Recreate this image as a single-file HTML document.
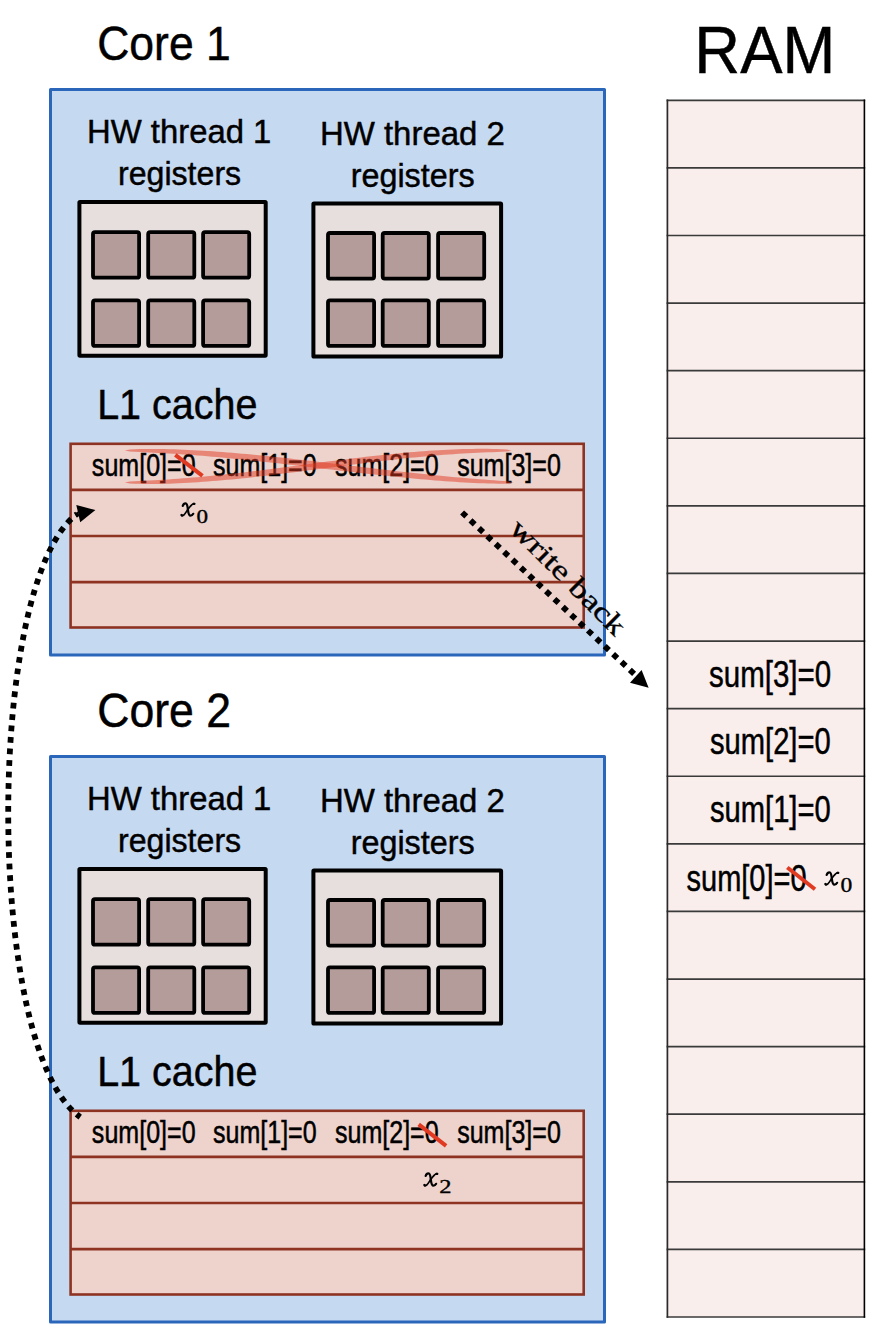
<!DOCTYPE html><html><head><meta charset="utf-8"><style>html,body{margin:0;padding:0;background:#fff;width:892px;height:1334px;overflow:hidden;position:relative}</style></head><body><svg width="892" height="1334" viewBox="0 0 892 1334" style="position:absolute;left:0;top:0">
<rect width="892" height="1334" fill="#fff"/>
<rect x="50.5" y="89.5" width="554" height="565.6" fill="#C5D9F1" stroke="#2A67BB" stroke-width="3" stroke-linejoin="round"/>
<text transform="matrix(0.44527 0 0 0.48623 97.20 59.67)" font-family='"Liberation Sans", sans-serif' font-size="100" fill="#000" stroke="#000" stroke-width="0.966">Core 1</text>
<text transform="matrix(0.32862 0 0 0.33551 87.00 142.97)" font-family='"Liberation Sans", sans-serif' font-size="100" fill="#000" stroke="#000" stroke-width="1.355">HW thread 1</text>
<text transform="matrix(0.32115 0 0 0.33582 118.04 184.78)" font-family='"Liberation Sans", sans-serif' font-size="100" fill="#000" stroke="#000" stroke-width="1.370">registers</text>
<text transform="matrix(0.32947 0 0 0.33551 319.89 144.88)" font-family='"Liberation Sans", sans-serif' font-size="100" fill="#000" stroke="#000" stroke-width="1.353">HW thread 2</text>
<text transform="matrix(0.32303 0 0 0.33582 350.73 186.68)" font-family='"Liberation Sans", sans-serif' font-size="100" fill="#000" stroke="#000" stroke-width="1.366">registers</text>
<rect x="79.4" y="202.0" width="186.3" height="153.7" rx="0.6" fill="#E7DEDE" stroke="#000" stroke-width="4"/>
<rect x="93.0" y="232.1" width="46.1" height="45.6" rx="2" fill="#B49C9A" stroke="#000" stroke-width="3.8"/>
<rect x="148.2" y="232.1" width="46.1" height="45.6" rx="2" fill="#B49C9A" stroke="#000" stroke-width="3.8"/>
<rect x="203.1" y="232.1" width="46.1" height="45.6" rx="2" fill="#B49C9A" stroke="#000" stroke-width="3.8"/>
<rect x="93.0" y="300.3" width="46.1" height="45.6" rx="2" fill="#B49C9A" stroke="#000" stroke-width="3.8"/>
<rect x="148.2" y="300.3" width="46.1" height="45.6" rx="2" fill="#B49C9A" stroke="#000" stroke-width="3.8"/>
<rect x="203.1" y="300.3" width="46.1" height="45.6" rx="2" fill="#B49C9A" stroke="#000" stroke-width="3.8"/>
<rect x="313.4" y="203.4" width="187.7" height="153.2" rx="0.6" fill="#E7DEDE" stroke="#000" stroke-width="4"/>
<rect x="328.0" y="233.0" width="46.1" height="45.6" rx="2" fill="#B49C9A" stroke="#000" stroke-width="3.8"/>
<rect x="382.7" y="233.0" width="46.1" height="45.6" rx="2" fill="#B49C9A" stroke="#000" stroke-width="3.8"/>
<rect x="438.1" y="233.0" width="46.1" height="45.6" rx="2" fill="#B49C9A" stroke="#000" stroke-width="3.8"/>
<rect x="328.0" y="300.3" width="46.1" height="45.6" rx="2" fill="#B49C9A" stroke="#000" stroke-width="3.8"/>
<rect x="382.7" y="300.3" width="46.1" height="45.6" rx="2" fill="#B49C9A" stroke="#000" stroke-width="3.8"/>
<rect x="438.1" y="300.3" width="46.1" height="45.6" rx="2" fill="#B49C9A" stroke="#000" stroke-width="3.8"/>
<text transform="matrix(0.39479 0 0 0.41667 97.17 419.07)" font-family='"Liberation Sans", sans-serif' font-size="100" fill="#000" stroke="#000" stroke-width="1.109">L1 cache</text>
<rect x="70.6" y="443.8" width="513.1" height="183.7" fill="#EED2CC" stroke="#8E3322" stroke-width="2.6"/>
<line x1="70.6" x2="583.7" y1="489.9" y2="489.9" stroke="#8E3322" stroke-width="2.6"/>
<line x1="70.6" x2="583.7" y1="536.0" y2="536.0" stroke="#8E3322" stroke-width="2.6"/>
<line x1="70.6" x2="583.7" y1="582.1" y2="582.1" stroke="#8E3322" stroke-width="2.6"/>
<text transform="matrix(0.25043 0 0 0.31479 91.87 476.27)" font-family='"Liberation Sans", sans-serif' font-size="100" fill="#000" stroke="#000" stroke-width="1.592">sum[0]=0</text>
<text transform="matrix(0.25043 0 0 0.31479 212.97 476.27)" font-family='"Liberation Sans", sans-serif' font-size="100" fill="#000" stroke="#000" stroke-width="1.592">sum[1]=0</text>
<text transform="matrix(0.25043 0 0 0.31479 334.97 476.27)" font-family='"Liberation Sans", sans-serif' font-size="100" fill="#000" stroke="#000" stroke-width="1.592">sum[2]=0</text>
<text transform="matrix(0.25043 0 0 0.31479 457.17 476.27)" font-family='"Liberation Sans", sans-serif' font-size="100" fill="#000" stroke="#000" stroke-width="1.592">sum[3]=0</text>
<rect x="50.5" y="756.5" width="554" height="565.6" fill="#C5D9F1" stroke="#2A67BB" stroke-width="3" stroke-linejoin="round"/>
<text transform="matrix(0.44603 0 0 0.48623 97.19 726.67)" font-family='"Liberation Sans", sans-serif' font-size="100" fill="#000" stroke="#000" stroke-width="0.965">Core 2</text>
<text transform="matrix(0.32862 0 0 0.33551 87.00 809.98)" font-family='"Liberation Sans", sans-serif' font-size="100" fill="#000" stroke="#000" stroke-width="1.355">HW thread 1</text>
<text transform="matrix(0.32115 0 0 0.33582 118.04 851.77)" font-family='"Liberation Sans", sans-serif' font-size="100" fill="#000" stroke="#000" stroke-width="1.370">registers</text>
<text transform="matrix(0.32947 0 0 0.33551 319.89 811.88)" font-family='"Liberation Sans", sans-serif' font-size="100" fill="#000" stroke="#000" stroke-width="1.353">HW thread 2</text>
<text transform="matrix(0.32303 0 0 0.33582 350.73 853.67)" font-family='"Liberation Sans", sans-serif' font-size="100" fill="#000" stroke="#000" stroke-width="1.366">registers</text>
<rect x="79.4" y="869.0" width="186.3" height="153.7" rx="0.6" fill="#E7DEDE" stroke="#000" stroke-width="4"/>
<rect x="93.0" y="899.1" width="46.1" height="45.6" rx="2" fill="#B49C9A" stroke="#000" stroke-width="3.8"/>
<rect x="148.2" y="899.1" width="46.1" height="45.6" rx="2" fill="#B49C9A" stroke="#000" stroke-width="3.8"/>
<rect x="203.1" y="899.1" width="46.1" height="45.6" rx="2" fill="#B49C9A" stroke="#000" stroke-width="3.8"/>
<rect x="93.0" y="967.3" width="46.1" height="45.6" rx="2" fill="#B49C9A" stroke="#000" stroke-width="3.8"/>
<rect x="148.2" y="967.3" width="46.1" height="45.6" rx="2" fill="#B49C9A" stroke="#000" stroke-width="3.8"/>
<rect x="203.1" y="967.3" width="46.1" height="45.6" rx="2" fill="#B49C9A" stroke="#000" stroke-width="3.8"/>
<rect x="313.4" y="870.4" width="187.7" height="153.2" rx="0.6" fill="#E7DEDE" stroke="#000" stroke-width="4"/>
<rect x="328.0" y="900.0" width="46.1" height="45.6" rx="2" fill="#B49C9A" stroke="#000" stroke-width="3.8"/>
<rect x="382.7" y="900.0" width="46.1" height="45.6" rx="2" fill="#B49C9A" stroke="#000" stroke-width="3.8"/>
<rect x="438.1" y="900.0" width="46.1" height="45.6" rx="2" fill="#B49C9A" stroke="#000" stroke-width="3.8"/>
<rect x="328.0" y="967.3" width="46.1" height="45.6" rx="2" fill="#B49C9A" stroke="#000" stroke-width="3.8"/>
<rect x="382.7" y="967.3" width="46.1" height="45.6" rx="2" fill="#B49C9A" stroke="#000" stroke-width="3.8"/>
<rect x="438.1" y="967.3" width="46.1" height="45.6" rx="2" fill="#B49C9A" stroke="#000" stroke-width="3.8"/>
<text transform="matrix(0.39479 0 0 0.41667 97.17 1086.08)" font-family='"Liberation Sans", sans-serif' font-size="100" fill="#000" stroke="#000" stroke-width="1.109">L1 cache</text>
<rect x="70.6" y="1110.8" width="513.1" height="183.7" fill="#EED2CC" stroke="#8E3322" stroke-width="2.6"/>
<line x1="70.6" x2="583.7" y1="1156.9" y2="1156.9" stroke="#8E3322" stroke-width="2.6"/>
<line x1="70.6" x2="583.7" y1="1203.0" y2="1203.0" stroke="#8E3322" stroke-width="2.6"/>
<line x1="70.6" x2="583.7" y1="1249.1" y2="1249.1" stroke="#8E3322" stroke-width="2.6"/>
<text transform="matrix(0.25043 0 0 0.31479 91.87 1143.28)" font-family='"Liberation Sans", sans-serif' font-size="100" fill="#000" stroke="#000" stroke-width="1.592">sum[0]=0</text>
<text transform="matrix(0.25043 0 0 0.31479 212.97 1143.28)" font-family='"Liberation Sans", sans-serif' font-size="100" fill="#000" stroke="#000" stroke-width="1.592">sum[1]=0</text>
<text transform="matrix(0.25043 0 0 0.31479 334.97 1143.28)" font-family='"Liberation Sans", sans-serif' font-size="100" fill="#000" stroke="#000" stroke-width="1.592">sum[2]=0</text>
<text transform="matrix(0.25043 0 0 0.31479 457.17 1143.28)" font-family='"Liberation Sans", sans-serif' font-size="100" fill="#000" stroke="#000" stroke-width="1.592">sum[3]=0</text>
<path d="M124.80,450.40 L129.69,451.40 L134.56,451.70 L139.44,451.95 L144.31,452.19 L149.18,452.42 L154.05,452.66 L158.91,452.92 L163.77,453.18 L168.63,453.46 L173.49,453.76 L178.35,454.07 L183.20,454.39 L188.06,454.74 L192.91,455.09 L197.76,455.46 L202.61,455.85 L207.45,456.25 L212.30,456.66 L217.15,457.08 L221.99,457.52 L226.83,457.97 L231.68,458.43 L236.52,458.91 L241.36,459.39 L246.20,459.89 L251.04,460.39 L255.88,460.90 L260.72,461.42 L265.56,461.95 L270.40,462.48 L275.24,463.03 L280.08,463.57 L284.92,464.13 L289.76,464.68 L294.60,465.24 L299.44,465.81 L304.28,466.38 L309.12,466.95 L313.96,467.52 L318.80,468.09 L323.64,468.66 L328.48,469.24 L333.32,469.81 L338.17,470.38 L343.01,470.94 L347.85,471.51 L352.70,472.07 L357.55,472.63 L362.39,473.18 L367.24,473.73 L372.09,474.27 L376.94,474.80 L381.79,475.33 L386.64,475.84 L391.49,476.35 L396.35,476.85 L401.20,477.34 L406.06,477.82 L410.92,478.29 L415.78,478.74 L420.64,479.18 L425.50,479.61 L430.36,480.02 L435.23,480.42 L440.09,480.80 L444.96,481.16 L449.83,481.50 L454.70,481.83 L459.57,482.13 L464.45,482.42 L469.32,482.68 L474.20,482.92 L479.08,483.13 L483.96,483.31 L488.84,483.46 L493.72,483.57 L498.61,483.63 L503.50,483.64 L508.39,483.54 L513.30,482.70 L513.30,482.70 L508.46,481.55 L503.60,481.10 L498.74,480.71 L493.88,480.33 L489.02,479.96 L484.16,479.59 L479.31,479.20 L474.46,478.81 L469.61,478.41 L464.76,478.00 L459.91,477.58 L455.06,477.14 L450.22,476.69 L445.37,476.24 L440.53,475.77 L435.69,475.29 L430.84,474.80 L426.00,474.30 L421.16,473.79 L416.32,473.28 L411.48,472.75 L406.64,472.22 L401.80,471.68 L396.96,471.13 L392.13,470.58 L387.29,470.02 L382.45,469.45 L377.61,468.88 L372.77,468.31 L367.93,467.74 L363.09,467.16 L358.25,466.58 L353.42,466.00 L348.58,465.41 L343.74,464.83 L338.89,464.25 L334.05,463.67 L329.21,463.09 L324.37,462.51 L319.53,461.93 L314.68,461.36 L309.84,460.80 L304.99,460.23 L300.15,459.68 L295.30,459.13 L290.45,458.58 L285.60,458.05 L280.75,457.52 L275.90,457.00 L271.05,456.49 L266.19,455.99 L261.34,455.50 L256.48,455.02 L251.63,454.55 L246.77,454.10 L241.91,453.66 L237.04,453.24 L232.18,452.82 L227.32,452.43 L222.45,452.05 L217.58,451.69 L212.71,451.34 L207.84,451.02 L202.97,450.71 L198.10,450.43 L193.22,450.16 L188.34,449.92 L183.46,449.70 L178.58,449.50 L173.70,449.33 L168.82,449.19 L163.93,449.08 L159.04,448.99 L154.16,448.94 L149.26,448.92 L144.37,448.95 L139.48,449.02 L134.59,449.16 L129.69,449.40 L124.80,450.40Z" fill="#E03A22" fill-opacity="0.5"/>
<path d="M124.80,482.40 L129.69,483.43 L134.58,483.69 L139.47,483.85 L144.36,483.93 L149.24,483.96 L154.12,483.94 L159.00,483.88 L163.88,483.78 L168.75,483.65 L173.62,483.48 L178.49,483.28 L183.36,483.05 L188.22,482.79 L193.07,482.51 L197.93,482.20 L202.78,481.86 L207.63,481.50 L212.48,481.12 L217.32,480.72 L222.16,480.29 L227.00,479.85 L231.84,479.39 L236.67,478.91 L241.51,478.41 L246.34,477.90 L251.16,477.38 L255.99,476.84 L260.81,476.29 L265.63,475.73 L270.45,475.15 L275.27,474.57 L280.09,473.98 L284.90,473.37 L289.71,472.77 L294.52,472.15 L299.34,471.53 L304.14,470.91 L308.95,470.28 L313.76,469.65 L318.57,469.02 L323.37,468.39 L328.18,467.76 L332.98,467.13 L337.79,466.50 L342.59,465.87 L347.39,465.25 L352.20,464.63 L357.00,464.02 L361.80,463.41 L366.61,462.81 L371.41,462.22 L376.22,461.63 L381.02,461.06 L385.83,460.50 L390.64,459.94 L395.45,459.40 L400.26,458.87 L405.07,458.36 L409.88,457.86 L414.69,457.38 L419.51,456.91 L424.33,456.45 L429.15,456.02 L433.97,455.60 L438.79,455.21 L443.62,454.83 L448.45,454.47 L453.28,454.13 L458.12,453.82 L462.96,453.52 L467.80,453.25 L472.64,452.99 L477.49,452.76 L482.35,452.55 L487.21,452.36 L492.07,452.18 L496.94,452.01 L501.81,451.83 L506.69,451.61 L511.60,450.70 L511.60,450.70 L506.72,449.61 L501.83,449.29 L496.94,449.08 L492.05,448.94 L487.16,448.86 L482.27,448.83 L477.39,448.84 L472.51,448.89 L467.64,448.97 L462.76,449.09 L457.89,449.25 L453.03,449.44 L448.16,449.65 L443.30,449.90 L438.44,450.17 L433.59,450.47 L428.74,450.79 L423.89,451.14 L419.04,451.51 L414.20,451.91 L409.35,452.32 L404.52,452.75 L399.68,453.21 L394.85,453.68 L390.01,454.16 L385.18,454.67 L380.36,455.19 L375.53,455.72 L370.71,456.26 L365.89,456.82 L361.07,457.39 L356.25,457.97 L351.43,458.56 L346.62,459.16 L341.81,459.76 L336.99,460.38 L332.18,461.00 L327.37,461.62 L322.57,462.25 L317.76,462.88 L312.95,463.51 L308.15,464.14 L303.34,464.78 L298.54,465.41 L293.73,466.05 L288.93,466.68 L284.12,467.31 L279.32,467.93 L274.52,468.55 L269.71,469.17 L264.91,469.77 L260.10,470.38 L255.30,470.97 L250.49,471.55 L245.68,472.13 L240.88,472.69 L236.07,473.24 L231.26,473.78 L226.45,474.31 L221.63,474.83 L216.82,475.33 L212.00,475.81 L207.18,476.28 L202.36,476.73 L197.54,477.16 L192.72,477.58 L187.89,477.98 L183.06,478.36 L178.23,478.72 L173.39,479.06 L168.55,479.38 L163.71,479.67 L158.86,479.96 L154.01,480.22 L149.16,480.46 L144.30,480.69 L139.44,480.92 L134.57,481.15 L129.69,481.43 L124.80,482.40Z" fill="#E03A22" fill-opacity="0.5"/>
<line x1="175.3" y1="454.8" x2="202.5" y2="475.8" stroke="#E03A22" stroke-width="4"/>
<line x1="418.7" y1="1124.4" x2="446.1" y2="1145.8" stroke="#E03A22" stroke-width="4"/>
<text transform="matrix(0.63422 0 0 0.67174 694.35 73.28)" font-family='"Liberation Sans", sans-serif' font-size="100" fill="#000" stroke="#000" stroke-width="0.689">RAM</text>
<rect x="667.4" y="100.3" width="197" height="1216.7" fill="#F9EEEC"/>
<line x1="666.6" x2="865.2" y1="100.30" y2="100.30" stroke="#3A3A3A" stroke-width="1.7"/>
<line x1="666.6" x2="865.2" y1="167.89" y2="167.89" stroke="#3A3A3A" stroke-width="1.7"/>
<line x1="666.6" x2="865.2" y1="235.49" y2="235.49" stroke="#3A3A3A" stroke-width="1.7"/>
<line x1="666.6" x2="865.2" y1="303.08" y2="303.08" stroke="#3A3A3A" stroke-width="1.7"/>
<line x1="666.6" x2="865.2" y1="370.68" y2="370.68" stroke="#3A3A3A" stroke-width="1.7"/>
<line x1="666.6" x2="865.2" y1="438.27" y2="438.27" stroke="#3A3A3A" stroke-width="1.7"/>
<line x1="666.6" x2="865.2" y1="505.87" y2="505.87" stroke="#3A3A3A" stroke-width="1.7"/>
<line x1="666.6" x2="865.2" y1="573.46" y2="573.46" stroke="#3A3A3A" stroke-width="1.7"/>
<line x1="666.6" x2="865.2" y1="641.06" y2="641.06" stroke="#3A3A3A" stroke-width="1.7"/>
<line x1="666.6" x2="865.2" y1="708.65" y2="708.65" stroke="#3A3A3A" stroke-width="1.7"/>
<line x1="666.6" x2="865.2" y1="776.24" y2="776.24" stroke="#3A3A3A" stroke-width="1.7"/>
<line x1="666.6" x2="865.2" y1="843.84" y2="843.84" stroke="#3A3A3A" stroke-width="1.7"/>
<line x1="666.6" x2="865.2" y1="911.43" y2="911.43" stroke="#3A3A3A" stroke-width="1.7"/>
<line x1="666.6" x2="865.2" y1="979.03" y2="979.03" stroke="#3A3A3A" stroke-width="1.7"/>
<line x1="666.6" x2="865.2" y1="1046.62" y2="1046.62" stroke="#3A3A3A" stroke-width="1.7"/>
<line x1="666.6" x2="865.2" y1="1114.22" y2="1114.22" stroke="#3A3A3A" stroke-width="1.7"/>
<line x1="666.6" x2="865.2" y1="1181.81" y2="1181.81" stroke="#3A3A3A" stroke-width="1.7"/>
<line x1="666.6" x2="865.2" y1="1249.41" y2="1249.41" stroke="#3A3A3A" stroke-width="1.7"/>
<line x1="666.6" x2="865.2" y1="1317.00" y2="1317.00" stroke="#3A3A3A" stroke-width="1.7"/>
<line x1="667.4" x2="667.4" y1="99.50" y2="1317.80" stroke="#2A2A2A" stroke-width="1.7"/>
<line x1="864.4" x2="864.4" y1="99.50" y2="1317.80" stroke="#000" stroke-width="1.6"/>
<text transform="matrix(0.29509 0 0 0.36831 709.04 686.98)" font-family='"Liberation Sans", sans-serif' font-size="100" fill="#000" stroke="#000" stroke-width="1.357">sum[3]=0</text>
<text transform="matrix(0.29166 0 0 0.36831 709.95 754.27)" font-family='"Liberation Sans", sans-serif' font-size="100" fill="#000" stroke="#000" stroke-width="1.364">sum[2]=0</text>
<text transform="matrix(0.29166 0 0 0.36831 709.95 822.07)" font-family='"Liberation Sans", sans-serif' font-size="100" fill="#000" stroke="#000" stroke-width="1.364">sum[1]=0</text>
<text transform="matrix(0.28994 0 0 0.36831 686.56 890.77)" font-family='"Liberation Sans", sans-serif' font-size="100" fill="#000" stroke="#000" stroke-width="1.367">sum[0]=0</text>
<line x1="787.3" y1="867.5" x2="815" y2="889.2" stroke="#E03A22" stroke-width="4"/>
<g transform="translate(180.90,502.85) scale(0.9)" fill="none" stroke="#000" stroke-linecap="round"><path d="M2.1,3.4 C2.7,1.7 4.1,0.6 5.3,0.7 C7.1,0.8 7.4,4 7.8,7.4 C8.2,10.8 8.8,14.2 10.7,14.2 C11.9,14.2 13.1,13.3 13.7,12.2" stroke-width="2.5"/><path d="M0.9,13.5 C1.2,14.4 2.2,14.4 3.3,13.5 C4.9,12 6.4,9.2 7.8,7.2 C9.4,5 11.4,2.2 13.4,1.2 C14.2,0.8 14.8,0.8 15.0,1.1" stroke-width="1.9"/><path d="M0.7,13.6 L1.3,14.1" stroke-width="2.6"/><path d="M14.2,1.2 L15,1.1" stroke-width="2.4"/></g>
<text transform="matrix(0.23095 0 0 0.19429 196.48 522.60)" font-family='"Liberation Serif", serif' font-size="100" fill="#000" stroke="#000" stroke-width="1.881">0</text>
<g transform="translate(824.80,871.85) scale(0.9)" fill="none" stroke="#000" stroke-linecap="round"><path d="M2.1,3.4 C2.7,1.7 4.1,0.6 5.3,0.7 C7.1,0.8 7.4,4 7.8,7.4 C8.2,10.8 8.8,14.2 10.7,14.2 C11.9,14.2 13.1,13.3 13.7,12.2" stroke-width="2.5"/><path d="M0.9,13.5 C1.2,14.4 2.2,14.4 3.3,13.5 C4.9,12 6.4,9.2 7.8,7.2 C9.4,5 11.4,2.2 13.4,1.2 C14.2,0.8 14.8,0.8 15.0,1.1" stroke-width="1.9"/><path d="M0.7,13.6 L1.3,14.1" stroke-width="2.6"/><path d="M14.2,1.2 L15,1.1" stroke-width="2.4"/></g>
<text transform="matrix(0.23571 0 0 0.20000 840.46 891.90)" font-family='"Liberation Serif", serif' font-size="100" fill="#000" stroke="#000" stroke-width="1.836">0</text>
<g transform="translate(423.80,1172.85) scale(0.9)" fill="none" stroke="#000" stroke-linecap="round"><path d="M2.1,3.4 C2.7,1.7 4.1,0.6 5.3,0.7 C7.1,0.8 7.4,4 7.8,7.4 C8.2,10.8 8.8,14.2 10.7,14.2 C11.9,14.2 13.1,13.3 13.7,12.2" stroke-width="2.5"/><path d="M0.9,13.5 C1.2,14.4 2.2,14.4 3.3,13.5 C4.9,12 6.4,9.2 7.8,7.2 C9.4,5 11.4,2.2 13.4,1.2 C14.2,0.8 14.8,0.8 15.0,1.1" stroke-width="1.9"/><path d="M0.7,13.6 L1.3,14.1" stroke-width="2.6"/><path d="M14.2,1.2 L15,1.1" stroke-width="2.4"/></g>
<text transform="matrix(0.24500 0 0 0.19565 439.20 1192.60)" font-family='"Liberation Serif", serif' font-size="100" fill="#000" stroke="#000" stroke-width="1.815">2</text>
<path d="M80.2,1117.1 C-15.35,1049.86 -15.10,582.48 77,514" fill="none" stroke="#000" stroke-width="5.8" stroke-dasharray="5.75 5.75" stroke-dashoffset="1.1"/>
<path d="M95.4,510.1 L76.3,505.1 L80.2,522.2 Z" fill="#000"/>
<path d="M74.6,513.8 L77.6,511.6 L79.4,515.4 L76.6,517.6 Z" fill="#000"/>
<path d="M462.1,512.5 L634.1,673.8" fill="none" stroke="#000" stroke-width="5.8" stroke-dasharray="5.75 5.75"/>
<path d="M648.6,687.8 L641.6,670.1 L630,682.7 Z" fill="#000"/>
<text transform="translate(508.1,530.2) rotate(45) scale(1.29,1)" font-family='"Liberation Serif", serif' font-size="28" fill="#000" stroke="#000" stroke-width="0.35">write back</text>
</svg></body></html>
